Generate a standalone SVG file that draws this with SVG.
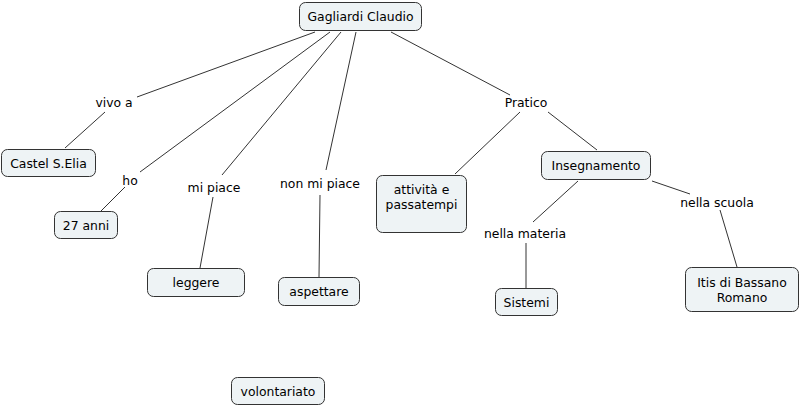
<svg xmlns="http://www.w3.org/2000/svg" width="802" height="406" viewBox="0 0 802 406">
<style>
.n rect{fill:#eef3f5;stroke:#333;stroke-width:1}
text{font-family:"DejaVu Sans",Verdana,sans-serif;font-size:12.4px;fill:#000;text-anchor:middle}
.c line{stroke:#333;stroke-width:1}
</style>
<rect width="802" height="406" fill="#fff"/>
<g class="c">
<line x1="315" y1="32" x2="137" y2="97"/>
<line x1="105" y1="112" x2="65" y2="148"/>
<line x1="330" y1="32" x2="140" y2="172"/>
<line x1="125" y1="187" x2="101" y2="211"/>
<line x1="341" y1="32" x2="222" y2="175"/>
<line x1="213" y1="197" x2="200" y2="268"/>
<line x1="356" y1="32" x2="326" y2="170"/>
<line x1="320" y1="195" x2="319" y2="277"/>
<line x1="391" y1="32" x2="510" y2="95"/>
<line x1="520" y1="112" x2="455" y2="174"/>
<line x1="548" y1="112" x2="597" y2="150"/>
<line x1="578" y1="181" x2="533" y2="222"/>
<line x1="526" y1="243" x2="526" y2="288"/>
<line x1="652" y1="181" x2="690" y2="194"/>
<line x1="720" y1="210" x2="737" y2="267"/>
</g>
<g id="labels">
<text x="114" y="107">vivo a</text>
<text x="130" y="185">ho</text>
<text x="214" y="192">mi piace</text>
<text x="320" y="188">non mi piace</text>
<text x="526" y="107">Pratico</text>
<text x="525" y="238">nella materia</text>
<text x="717" y="207">nella scuola</text>
</g>
<g id="n1" class="n"><rect x="299.5" y="2.5" width="122" height="28" rx="6"/><text x="360.5" y="21">Gagliardi Claudio</text></g>
<g id="n2" class="n"><rect x="1.5" y="149.5" width="94" height="27" rx="6"/><text x="48.5" y="168">Castel S.Elia</text></g>
<g id="n3" class="n"><rect x="54.5" y="211.5" width="63" height="27" rx="6"/><text x="86" y="230">27 anni</text></g>
<g id="n4" class="n"><rect x="147.5" y="268.5" width="97" height="28" rx="6"/><text x="196" y="287">leggere</text></g>
<g id="n5" class="n"><rect x="278.5" y="277.5" width="81" height="28" rx="6"/><text x="319" y="296">aspettare</text></g>
<g id="n6" class="n"><rect x="376.5" y="175.5" width="90" height="57" rx="6"/><text x="421.5" y="194">attività e</text><text x="421.5" y="209">passatempi</text></g>
<g id="n7" class="n"><rect x="541.5" y="151.5" width="109" height="28" rx="6"/><text x="596" y="170">Insegnamento</text></g>
<g id="n8" class="n"><rect x="495.5" y="288.5" width="62" height="27" rx="6"/><text x="526.5" y="307">Sistemi</text></g>
<g id="n9" class="n"><rect x="685.5" y="267.5" width="113" height="44" rx="6"/><text x="742" y="287">Itis di Bassano</text><text x="742" y="302">Romano</text></g>
<g id="n10" class="n"><rect x="231.5" y="377.5" width="93" height="27" rx="6"/><text x="278" y="396">volontariato</text></g>
</svg>
